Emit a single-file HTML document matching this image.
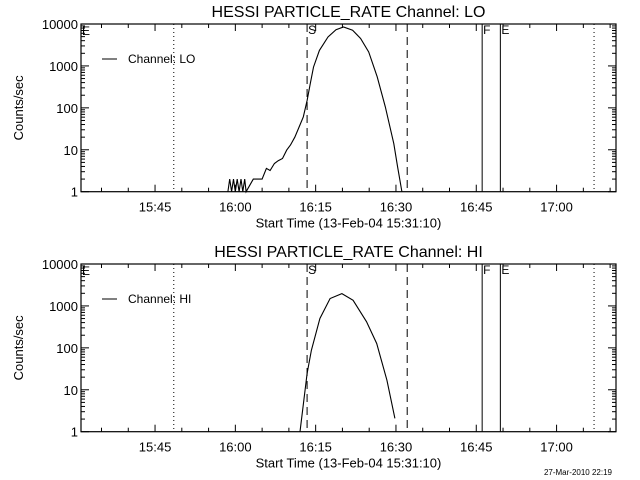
<!DOCTYPE html>
<html><head><meta charset="utf-8"><style>
body{margin:0;background:#fff}
svg{display:block;font-family:"Liberation Sans",sans-serif}
</style></head><body>
<svg id="c" width="640" height="480" xmlns="http://www.w3.org/2000/svg"></svg>
<script>
// data: minutes since 15:00, counts/sec
const loTimes=[58.6,58.95,59.3,59.65,60.0,60.35,60.7,61.05,61.4,61.75,62.0,63.35,65.0,65.8,66.5,67.3,68.0,68.8,69.6,70.3,71.1,71.9,72.7,73.4,74.0,74.6,75.7,77.3,78.8,80.2,81.9,83.4,84.9,86.5,88.0,89.6,90.3,91.1];
const loValues=[1,2,1,2,1,2,1,2,1,2,1,2,2,3.6,3.2,4.7,5.5,6.2,9.8,13,20,35,61,150,380,940,2350,4900,7300,8500,7100,4500,2150,550,106,14,3.9,1];
const hiTimes=[72.07,73.4,74.2,75.8,77.7,79.9,82.0,84.5,86.4,88.3,89.8];
const hiValues=[1,24.5,88,500,1500,1970,1360,420,127,17,2.08];
const tickLabels=["15:45","16:00","16:15","16:30","16:45","17:00"];
const tickMinutes=[45,60,75,90,105,120];
const yTickValues=[1,10,100,1000,10000];
const vlines=[{m:48.5,s:"dot"},{m:73.4,s:"dash",l:"S"},{m:92.1,s:"dash"},{m:106.1,s:"solid",l:"F"},{m:109.5,s:"solid",l:"E"},{m:127,s:"dot"}];

const NS="http://www.w3.org/2000/svg";
const svg=document.getElementById("c");
const X0=81,X1=616,T0=31.17,T1=131.1;
function xs(m){return X0+(m-T0)*(X1-X0)/(T1-T0);}
function mk(tag,attrs,parent){const e=document.createElementNS(NS,tag);for(const k in attrs)e.setAttribute(k,attrs[k]);(parent||svg).appendChild(e);return e;}

function panel(off,name,times,values){
  const top=24+off,bot=191.7+off;
  const ys=v=>bot-Math.log10(v)*(bot-top)/4;
  const g=mk("g",{});
  
  
  const t=mk("text",{x:(X0+X1)/2,y:17+off,"text-anchor":"middle","font-size":"16"},g);
  t.textContent="HESSI PARTICLE_RATE Channel: "+name;
  
  
  const f=mk("rect",{x:X0,y:top,width:X1-X0,height:bot-top,fill:"none",stroke:"#000","stroke-width":1.2},g);
  
  
  for(let d=0;d<4;d++)for(let k=1;k<10;k++){
    const y=ys(k*Math.pow(10,d));const len=k==1?8:4;
    mk("line",{x1:X0,x2:X0+len,y1:y,y2:y,stroke:"#000"},g);
    mk("line",{x1:X1,x2:X1-len,y1:y,y2:y,stroke:"#000"},g);
  }
  yTickValues.forEach(v=>{const tt=mk("text",{x:X0-3,y:ys(v)+5,"text-anchor":"end","font-size":"13"},g);tt.textContent=String(v);
    
    });
  const yl=mk("text",{transform:`translate(23,${(top+bot)/2}) rotate(-90)`,"text-anchor":"middle","font-size":"13"},g);
  yl.textContent="Counts/sec";
  
  
  for(let m=35;m<=130;m+=5){const x=xs(m);const len=m%15==0?7:4;
    mk("line",{x1:x,x2:x,y1:bot,y2:bot-len,stroke:"#000"},g);
    mk("line",{x1:x,x2:x,y1:top,y2:top+len,stroke:"#000"},g);}
  tickLabels.forEach((s,i)=>{const tt=mk("text",{x:xs(tickMinutes[i]),y:bot+20,"text-anchor":"middle","font-size":"13"},g);tt.textContent=s;
    
    });
  const xl=mk("text",{x:(X0+X1)/2,y:bot+36,"text-anchor":"middle","font-size":"13"},g);
  xl.textContent="Start Time (13-Feb-04 15:31:10)";
  
  
  const e0=mk("text",{x:X0+1,y:top+11,"font-size":"12"},g);e0.textContent="E";
  
  
  vlines.forEach(v=>{const x=xs(v.m);
    const a={x1:x,x2:x,y1:top,y2:bot,stroke:"#000","stroke-width":1};
    if(v.s=="dot")a["stroke-dasharray"]="1 3";if(v.s=="dash")a["stroke-dasharray"]="8 5";
    const l=mk("line",a,g);
    
    
    if(v.l){const tt=mk("text",{x:x+1,y:top+10,"font-size":"12"},g);tt.textContent=v.l;
      
      }
  });
  const pts=times.map((m,i)=>xs(m).toFixed(1)+","+ys(values[i]).toFixed(1)).join(" ");
  const pl=mk("polyline",{points:pts,fill:"none",stroke:"#000","stroke-width":1.1},g);
  
  
  const lg=mk("g",{},g);
  
  
  mk("line",{x1:102,x2:117,y1:59+off,y2:59+off,stroke:"#000"},lg);
  const lt=mk("text",{x:128,y:63+off,"font-size":"12"},lg);lt.textContent="Channel: "+name;
}
panel(0,"LO",loTimes,loValues);
panel(240,"HI",hiTimes,hiValues);
const d=mk("text",{x:612,y:475,"text-anchor":"end","font-size":"8"});
d.textContent="27-Mar-2010 22:19";


</script>
</body></html>
